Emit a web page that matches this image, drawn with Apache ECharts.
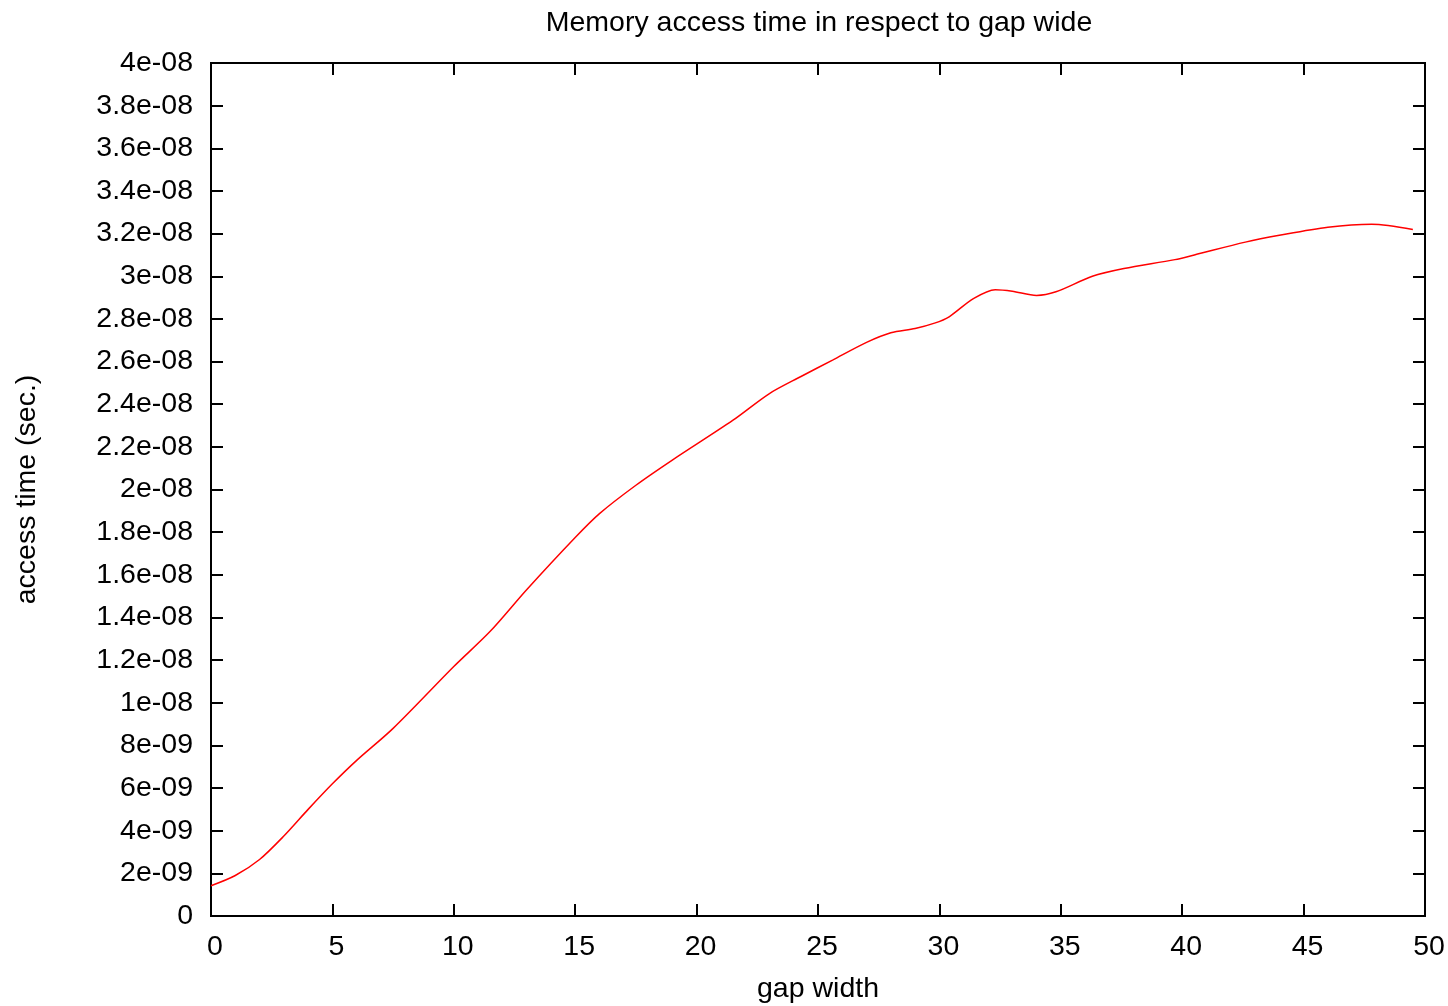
<!DOCTYPE html>
<html>
<head>
<meta charset="utf-8">
<title>Memory access time</title>
<script src="https://cdn.jsdelivr.net/npm/echarts@6/dist/echarts.min.js"></script>
<style>
  html, body { margin: 0; padding: 0; background: #fff; }
  #mycharts { width: 1448px; height: 1006px; }
</style>
</head>
<body>
<div id="mycharts"></div>
<script>
// gap width (x) and access time in ns (y)
var gapWidth = [0, 1, 2, 3, 4, 5, 6, 7.5, 10, 11.5, 13, 15, 16, 17.5, 19, 21.5, 23, 24.3, 25.6, 27, 28, 29, 29.8, 30.4, 31.4, 32.3, 33, 34, 34.8, 36.3, 37.6, 39.7, 40.5, 42.6, 44, 46, 47.8, 49.5];
var accessNs = [1.42, 1.9, 2.65, 3.75, 5.0, 6.2, 7.3, 8.8, 11.7, 13.35, 15.3, 17.75, 18.87, 20.2, 21.38, 23.25, 24.5, 25.3, 26.07, 26.9, 27.35, 27.55, 27.8, 28.1, 28.95, 29.37, 29.3, 29.1, 29.27, 30.0, 30.36, 30.78, 31.0, 31.6, 31.92, 32.3, 32.44, 32.19];
var yTickLabels = ['0', '2e-09', '4e-09', '6e-09', '8e-09', '1e-08', '1.2e-08', '1.4e-08', '1.6e-08', '1.8e-08', '2e-08',
	'2.2e-08', '2.4e-08', '2.6e-08', '2.8e-08', '3e-08', '3.2e-08', '3.4e-08', '3.6e-08', '3.8e-08', '4e-08'];

var font = '"Liberation Sans", Arial, sans-serif';
var fsize = 28.5;
var seriesData = [];
for (var i = 0; i < gapWidth.length; i++) {
	seriesData.push([gapWidth[i], accessNs[i] * 1e-9]);
}

// 边框线和向内的刻度
function axisLine() {
	return { show: true, onZero: false, lineStyle: { color: '#000', width: 2 } };
}
function tickIn() {
	return { show: true, inside: true, length: 12, lineStyle: { color: '#000', width: 2 } };
}

var myChart = echarts.init(document.getElementById('mycharts'));
myChart.setOption({
	animation: false,
	backgroundColor: '#fff',
	title: {
		text: 'Memory access time in respect to gap wide',
		left: 814,
		textAlign: 'center',
		top: 4,
		textStyle: { fontFamily: font, fontSize: fsize, fontWeight: 'normal', color: '#000' }
	},
	grid: {
		left: 211, right: 23, top: 63, bottom: 90,
		outerBoundsMode: 'none',
		show: true, borderColor: '#000', borderWidth: 2
	},
	xAxis: [{
		type: 'value',
		min: 0, max: 50, interval: 5,
		name: 'gap width',
		nameLocation: 'middle',
		nameGap: 59,
		nameTextStyle: { fontFamily: font, fontSize: fsize, color: '#000' },
		axisLine: axisLine(),
		axisTick: tickIn(),
		splitLine: { show: false },
		axisLabel: { fontFamily: font, fontSize: fsize, color: '#000', margin: 17, padding: [0, 0, 0, 8] }
	}, {
		type: 'value',
		position: 'top',
		min: 0, max: 50, interval: 5,
		axisLine: axisLine(),
		axisTick: tickIn(),
		splitLine: { show: false },
		axisLabel: { show: false }
	}],
	yAxis: [{
		type: 'value',
		min: 0, max: 4e-8, interval: 2e-9,
		name: 'access time (sec.)',
		nameLocation: 'middle',
		nameGap: 169,
		nameTextStyle: { fontFamily: font, fontSize: fsize, color: '#000' },
		axisLine: axisLine(),
		axisTick: tickIn(),
		splitLine: { show: false },
		axisLabel: {
			fontFamily: font, fontSize: fsize, color: '#000', margin: 18,
			formatter: function(value) {
				return yTickLabels[Math.round(value / 2e-9)];
			}
		}
	}, {
		type: 'value',
		position: 'right',
		min: 0, max: 4e-8, interval: 2e-9,
		axisLine: axisLine(),
		axisTick: tickIn(),
		splitLine: { show: false },
		axisLabel: { show: false }
	}],
	series: [{
		name: 'access time',
		type: 'line',
		xAxisIndex: 0,
		yAxisIndex: 0,
		data: seriesData,
		smooth: 0.3,
		showSymbol: false,
		lineStyle: { color: '#ff0000', width: 1.5 }
	}]
});
</script>
</body>
</html>
